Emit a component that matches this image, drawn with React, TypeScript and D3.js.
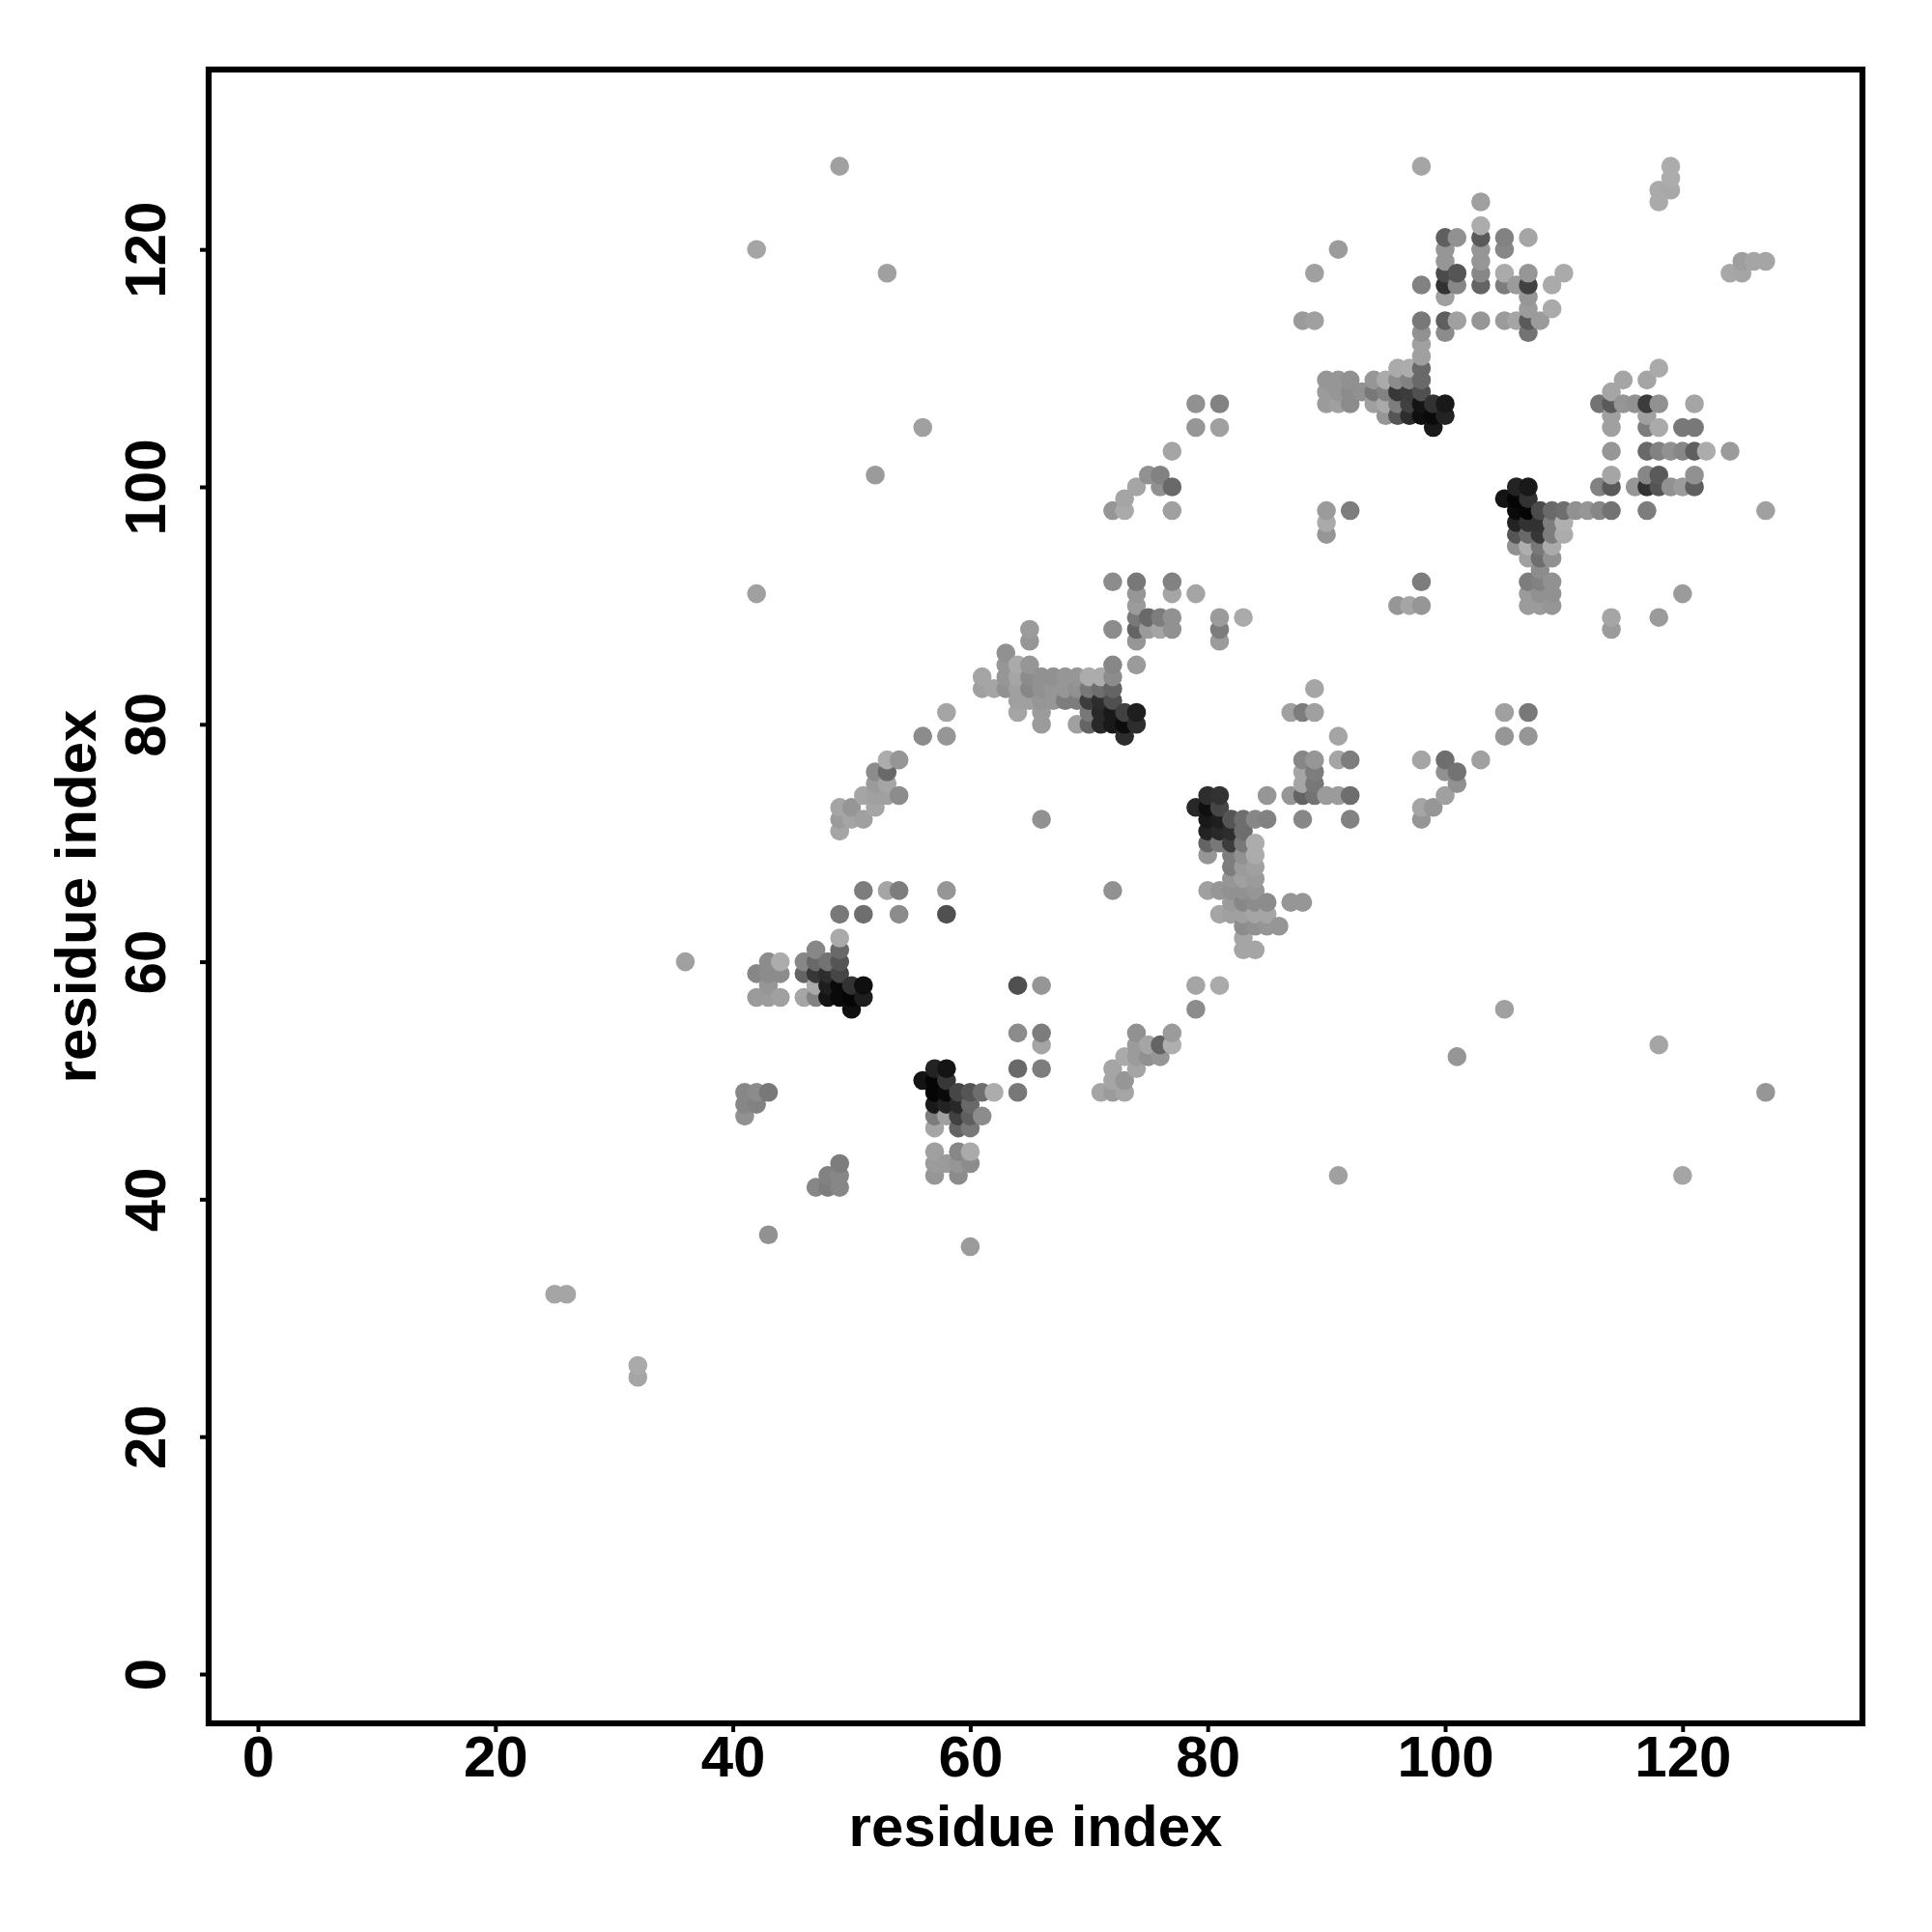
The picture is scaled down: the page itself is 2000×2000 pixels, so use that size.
import React, { useRef, useEffect } from 'react';
import * as d3 from 'd3';

// every contact is [residue x, residue y, grey level 0-255]
type Contact = number[];

const tickValues = [0, 20, 40, 60, 80, 100, 120];
const axisLabel = 'residue index';

const isolated: Contact[] = [
    [49, 127, 160], [42, 120, 165], [53, 118, 160], [56, 105, 160], [52, 101, 155], [42, 91, 160],
    [36, 60, 160], [43, 37, 145], [25, 32, 165], [26, 32, 165], [32, 26, 170], [32, 25, 165],
    [118, 53, 165], [127, 49, 150], [105, 56, 160], [101, 52, 150], [91, 42, 160], [120, 42, 165],
    [60, 36, 155], [91, 120, 155], [89, 118, 160], [88, 114, 155], [89, 114, 160], [98, 127, 165],
    [56, 79, 140], [58, 81, 165], [58, 79, 150], [66, 72, 145], [72, 66, 145],
    [119, 127, 172], [119, 126, 172], [119, 125, 168], [118, 125, 170], [118, 124, 170],
    [125, 119, 158], [126, 119, 165], [127, 119, 165], [124, 118, 168], [125, 118, 165],
    [127, 98, 160], [114, 89, 165], [114, 88, 155], [118, 89, 155], [120, 91, 155],
    [105, 81, 160], [107, 81, 120], [105, 79, 150], [107, 79, 150], [103, 77, 160],
];

const topBlock: Contact[] = [
    [103, 124, 160], [103, 122, 172],
    [100, 121, 95], [101, 121, 145], [103, 121, 90], [105, 121, 130], [107, 121, 165],
    [100, 120, 150], [103, 120, 150], [105, 120, 135],
    [100, 119, 150], [103, 119, 150],
    [100, 118, 75], [101, 118, 85], [103, 118, 135], [105, 118, 170], [107, 118, 150], [110, 118, 170],
    [98, 117, 130], [100, 117, 50], [101, 117, 135], [103, 117, 100], [105, 117, 125], [106, 117, 155], [107, 117, 65], [109, 117, 170],
    [100, 116, 160], [107, 116, 150], [107, 115, 155], [109, 115, 170],
    [98, 114, 120], [100, 114, 95], [101, 114, 160], [103, 114, 150], [105, 114, 155], [106, 114, 165], [107, 114, 90], [108, 114, 155],
    [98, 113, 145], [100, 113, 140], [107, 113, 115],
    [98, 112, 160], [98, 111, 160],
];

const ridge108: Contact[] = [
    [96, 110, 170], [97, 110, 172], [98, 110, 105],
    [90, 109, 150], [91, 109, 150], [92, 109, 145], [94, 109, 150], [95, 109, 170], [96, 109, 140], [97, 109, 130], [98, 109, 105],
    [90, 108, 155], [91, 108, 150], [92, 108, 140], [93, 108, 145], [94, 108, 120], [95, 108, 130], [96, 108, 55], [97, 108, 60], [98, 108, 80],
    [90, 107, 155], [91, 107, 160], [92, 107, 140], [94, 107, 160], [95, 107, 170], [96, 107, 125], [97, 107, 65], [98, 107, 20], [99, 107, 50], [100, 107, 25],
    [95, 106, 150], [96, 106, 85], [97, 106, 45], [98, 106, 15], [99, 106, 10], [100, 106, 35],
    [99, 105, 25],
];

const diagonal100: Contact[] = [
    [79, 107, 145], [81, 107, 130], [79, 105, 150], [81, 105, 160], [77, 103, 165],
    [75, 101, 145], [76, 101, 130], [74, 100, 165], [76, 100, 145], [77, 100, 105],
    [73, 99, 165], [72, 98, 150], [73, 98, 170], [77, 98, 160],
    [90, 98, 155], [92, 98, 125], [90, 97, 170], [90, 96, 150],
    [98, 92, 125], [96, 90, 150], [97, 90, 165], [98, 90, 150],
];

const block90: Contact[] = [
    [72, 92, 140], [74, 92, 120], [77, 92, 130], [74, 91, 150], [77, 91, 165], [79, 91, 165], [74, 90, 155],
    [74, 89, 120], [75, 89, 105], [76, 89, 125], [77, 89, 145], [81, 89, 155], [83, 89, 170],
    [72, 88, 140], [74, 88, 100], [75, 88, 155], [76, 88, 165], [77, 88, 145], [81, 88, 125],
    [74, 87, 150], [81, 87, 155], [65, 88, 155], [65, 87, 150], [63, 86, 145],
];

const ridge82: Contact[] = [
    [63, 85, 150], [64, 85, 170], [65, 85, 150], [72, 85, 135], [74, 85, 155],
    [61, 84, 165], [63, 84, 150], [64, 84, 165], [65, 84, 140], [66, 84, 145], [67, 84, 145], [68, 84, 150], [69, 84, 150], [70, 84, 172], [71, 84, 172], [72, 84, 140],
    [61, 83, 160], [62, 83, 165], [63, 83, 145], [64, 83, 160], [65, 83, 135], [66, 83, 145], [67, 83, 150], [68, 83, 150], [69, 83, 145], [70, 83, 120], [71, 83, 110], [72, 83, 100],
    [64, 82, 160], [65, 82, 160], [66, 82, 150], [67, 82, 150], [68, 82, 125], [69, 82, 125], [70, 82, 60], [71, 82, 45], [72, 82, 80],
    [64, 81, 165], [66, 81, 155], [70, 81, 120], [71, 81, 40], [72, 81, 25], [73, 81, 65], [74, 81, 30],
    [66, 80, 155], [69, 80, 160], [70, 80, 100], [71, 80, 40], [72, 80, 25], [73, 80, 12], [74, 80, 45],
    [73, 79, 45],
];

const patch75: Contact[] = [
    [87, 81, 160], [88, 81, 125], [89, 81, 160], [89, 83, 165], [91, 79, 165],
    [88, 77, 135], [89, 77, 150], [91, 77, 165], [92, 77, 125], [98, 77, 165], [100, 77, 110],
    [88, 76, 165], [89, 76, 125], [100, 76, 145], [101, 76, 115],
    [88, 75, 165], [89, 75, 120], [101, 75, 145],
    [87, 74, 150], [88, 74, 100], [89, 74, 115], [90, 74, 155], [91, 74, 155], [92, 74, 110], [100, 74, 160],
    [98, 73, 165], [99, 73, 150], [98, 72, 150], [88, 72, 135], [92, 72, 130],
];

const core80: Contact[] = [
    [80, 74, 45], [81, 74, 50], [85, 74, 150],
    [79, 73, 40], [80, 73, 15], [81, 73, 70],
    [80, 72, 25], [81, 72, 30], [82, 72, 85], [83, 72, 110], [84, 72, 135], [85, 72, 130],
    [80, 71, 35], [81, 71, 40], [82, 71, 45], [83, 71, 110],
    [80, 70, 100], [81, 70, 120], [82, 70, 60], [83, 70, 120], [84, 70, 172],
    [80, 69, 150], [82, 69, 125], [83, 69, 145], [84, 69, 172],
    [82, 68, 125], [83, 68, 155], [84, 68, 160],
    [82, 67, 150], [83, 67, 160], [84, 67, 155],
    [80, 66, 160], [81, 66, 150], [82, 66, 145], [83, 66, 145], [84, 66, 150],
    [82, 65, 155], [83, 65, 135], [84, 65, 140], [85, 65, 140], [87, 65, 150], [88, 65, 150],
    [81, 64, 165], [82, 64, 160], [83, 64, 160], [84, 64, 165], [85, 64, 165],
    [83, 63, 140], [84, 63, 145], [85, 63, 150], [86, 63, 150],
    [83, 62, 165], [83, 61, 165], [84, 61, 165],
    [79, 58, 165], [81, 58, 170], [79, 56, 140],
];

const lowerLeft: Contact[] = [
    [53, 77, 172], [54, 77, 150], [52, 76, 140], [53, 76, 105], [52, 75, 155], [53, 75, 165],
    [51, 74, 165], [52, 74, 160], [53, 74, 160], [54, 74, 140], [52, 73, 165], [49, 73, 165], [50, 73, 150],
    [49, 72, 155], [50, 72, 165], [51, 72, 160], [49, 71, 165],
    [51, 66, 125], [53, 66, 165], [54, 66, 125], [58, 66, 150],
    [49, 64, 120], [51, 64, 110], [54, 64, 140], [58, 64, 80],
];

const core50: Contact[] = [
    [49, 62, 170], [47, 61, 135], [49, 61, 105],
    [43, 60, 140], [44, 60, 172], [46, 60, 135], [47, 60, 105], [48, 60, 115], [49, 60, 85],
    [42, 59, 135], [43, 59, 140], [44, 59, 140], [46, 59, 100], [47, 59, 55], [48, 59, 45], [49, 59, 70],
    [43, 58, 150], [47, 58, 170], [48, 58, 30], [49, 58, 10], [50, 58, 50], [51, 58, 15],
    [42, 57, 155], [43, 57, 155], [44, 57, 160], [46, 57, 165], [47, 57, 130], [48, 57, 20], [49, 57, 10], [50, 57, 5], [51, 57, 30],
    [50, 56, 15],
];

const core57: Contact[] = [
    [57, 51, 35], [58, 51, 20], [56, 50, 20], [57, 50, 5], [58, 50, 55],
    [57, 49, 5], [58, 49, 10], [59, 49, 70], [60, 49, 85], [61, 49, 110], [62, 49, 172],
    [57, 48, 25], [58, 48, 35], [59, 48, 40], [60, 48, 105],
    [57, 47, 125], [58, 47, 160], [59, 47, 65], [60, 47, 95], [61, 47, 140],
    [57, 46, 165], [59, 46, 100], [60, 46, 120],
    [57, 44, 160], [59, 44, 135], [60, 44, 170],
    [57, 43, 155], [58, 43, 155], [59, 43, 150], [60, 43, 140],
    [57, 42, 150], [59, 42, 140],
    [41, 49, 135], [42, 49, 140], [43, 49, 120], [41, 48, 135], [42, 48, 130], [41, 47, 145],
    [49, 43, 125], [48, 42, 130], [49, 42, 135], [47, 41, 135], [48, 41, 125], [49, 41, 135],
];

const diagonal50: Contact[] = [
    [64, 58, 80], [66, 58, 150], [64, 54, 140], [66, 54, 125], [66, 53, 165], [64, 51, 105], [66, 51, 125], [64, 49, 120],
    [74, 54, 145], [77, 54, 155], [74, 53, 155], [75, 53, 165], [76, 53, 100], [77, 53, 175],
    [73, 52, 170], [74, 52, 155], [75, 52, 145], [76, 52, 150], [72, 51, 165], [74, 51, 165],
    [72, 50, 165], [73, 50, 150], [71, 49, 165], [72, 49, 155], [73, 49, 165],
];

const core100: Contact[] = [
    [106, 100, 35], [107, 100, 25], [105, 99, 20], [106, 99, 5], [107, 99, 50],
    [106, 98, 10], [107, 98, 5], [108, 98, 75], [109, 98, 105], [110, 98, 110], [111, 98, 145], [112, 98, 150], [113, 98, 135], [114, 98, 115], [117, 98, 125],
    [106, 97, 35], [107, 97, 50], [108, 97, 50], [109, 97, 125], [110, 97, 175],
    [106, 96, 85], [107, 96, 105], [108, 96, 55], [109, 96, 125], [110, 96, 172],
    [106, 95, 145], [107, 95, 175], [108, 95, 120], [109, 95, 170],
    [107, 94, 160], [108, 94, 110], [109, 94, 145], [108, 93, 140],
    [107, 92, 125], [108, 92, 130], [109, 92, 145],
    [107, 91, 155], [108, 91, 145], [109, 91, 145],
    [107, 90, 155], [108, 90, 155], [109, 90, 150],
];

const rightBlock: Contact[] = [
    [118, 110, 170], [115, 109, 165], [117, 109, 165], [114, 108, 165],
    [113, 107, 115], [114, 107, 90], [115, 107, 150], [116, 107, 145], [117, 107, 60], [118, 107, 145], [121, 107, 165],
    [114, 106, 160], [117, 106, 160],
    [114, 105, 160], [117, 105, 125], [118, 105, 170], [120, 105, 120], [121, 105, 120],
    [114, 103, 150], [117, 103, 105], [118, 103, 130], [119, 103, 145], [120, 103, 135], [121, 103, 95], [122, 103, 172], [124, 103, 155],
    [114, 101, 165], [117, 101, 135], [118, 101, 90], [121, 101, 145],
    [113, 100, 130], [114, 100, 90], [116, 100, 150], [117, 100, 50], [118, 100, 85], [119, 100, 145], [120, 100, 155], [121, 100, 95],
];

const width = 2000;
const height = 2000;
const plot = { left: 216, right: 1928, top: 72, bottom: 1784 };
const font = '"Liberation Sans", Arial, sans-serif';

function ContactMap() {
    const d3Container = useRef<SVGSVGElement | null>(null);

    useEffect(() => {
        if (!d3Container.current) return;

        const svg = d3.select(d3Container.current);
        svg.selectAll('*').remove();

        const x = d3.scaleLinear().domain([-4.15, 135.15]).range([plot.left, plot.right]);
        const y = d3.scaleLinear().domain([-4.15, 135.15]).range([plot.bottom, plot.top]);

        // later residues are painted over earlier ones, light on dark included
        const contacts = [
            ...isolated, ...topBlock, ...ridge108, ...diagonal100, ...block90, ...ridge82, ...patch75,
            ...core80, ...lowerLeft, ...core50, ...core57, ...diagonal50, ...core100, ...rightBlock,
        ].sort((a, b) => d3.ascending(a[0], b[0]) || d3.ascending(a[1], b[1]));

        svg.append('g')
            .selectAll('circle')
            .data(contacts)
            .join('circle')
            .attr('cx', (d) => x(d[0]))
            .attr('cy', (d) => y(d[1]))
            .attr('r', 9.8)
            .attr('fill', (d) => d3.rgb(d[2], d[2], d[2]).formatHex());

        const xAxis = svg.append('g')
            .attr('transform', `translate(0,${plot.bottom})`)
            .call(d3.axisBottom(x).tickValues(tickValues).tickSize(9).tickPadding(12));

        const yAxis = svg.append('g')
            .attr('transform', `translate(${plot.left},0)`)
            .call(d3.axisLeft(y).tickValues(tickValues).tickSize(9).tickPadding(0));

        [xAxis, yAxis].forEach((g: any) => {
            g.select('.domain').remove();
            g.selectAll('line').attr('stroke', '#000').attr('stroke-width', 4);
            g.selectAll('text')
                .attr('fill', '#000')
                .style('font-family', font)
                .style('font-weight', 'bold')
                .style('font-size', '60px');
        });

        xAxis.selectAll('text').attr('y', 0).attr('dy', 55);

        yAxis.selectAll('text')
            .attr('x', 0)
            .attr('dy', 0)
            .attr('text-anchor', 'middle')
            .attr('transform', 'translate(-45,0) rotate(-90)');

        svg.append('rect')
            .attr('x', plot.left)
            .attr('y', plot.top)
            .attr('width', plot.right - plot.left)
            .attr('height', plot.bottom - plot.top)
            .attr('fill', 'none')
            .attr('stroke', '#000')
            .attr('stroke-width', 6.2);

        svg.append('text')
            .attr('x', (plot.left + plot.right) / 2)
            .attr('y', 1911)
            .attr('text-anchor', 'middle')
            .style('font-family', font)
            .style('font-weight', 'bold')
            .style('font-size', '60px')
            .text(axisLabel);

        svg.append('text')
            .attr('transform', `translate(99,${(plot.top + plot.bottom) / 2}) rotate(-90)`)
            .attr('text-anchor', 'middle')
            .style('font-family', font)
            .style('font-weight', 'bold')
            .style('font-size', '60px')
            .text(axisLabel);
    }, []);

    return (
        <svg
            width={width}
            height={height}
            ref={d3Container}
            style={{ position: 'absolute', left: 0, top: 0, background: '#fff' }}
        />
    );
}

export default function App() {
    return <ContactMap />;
}
